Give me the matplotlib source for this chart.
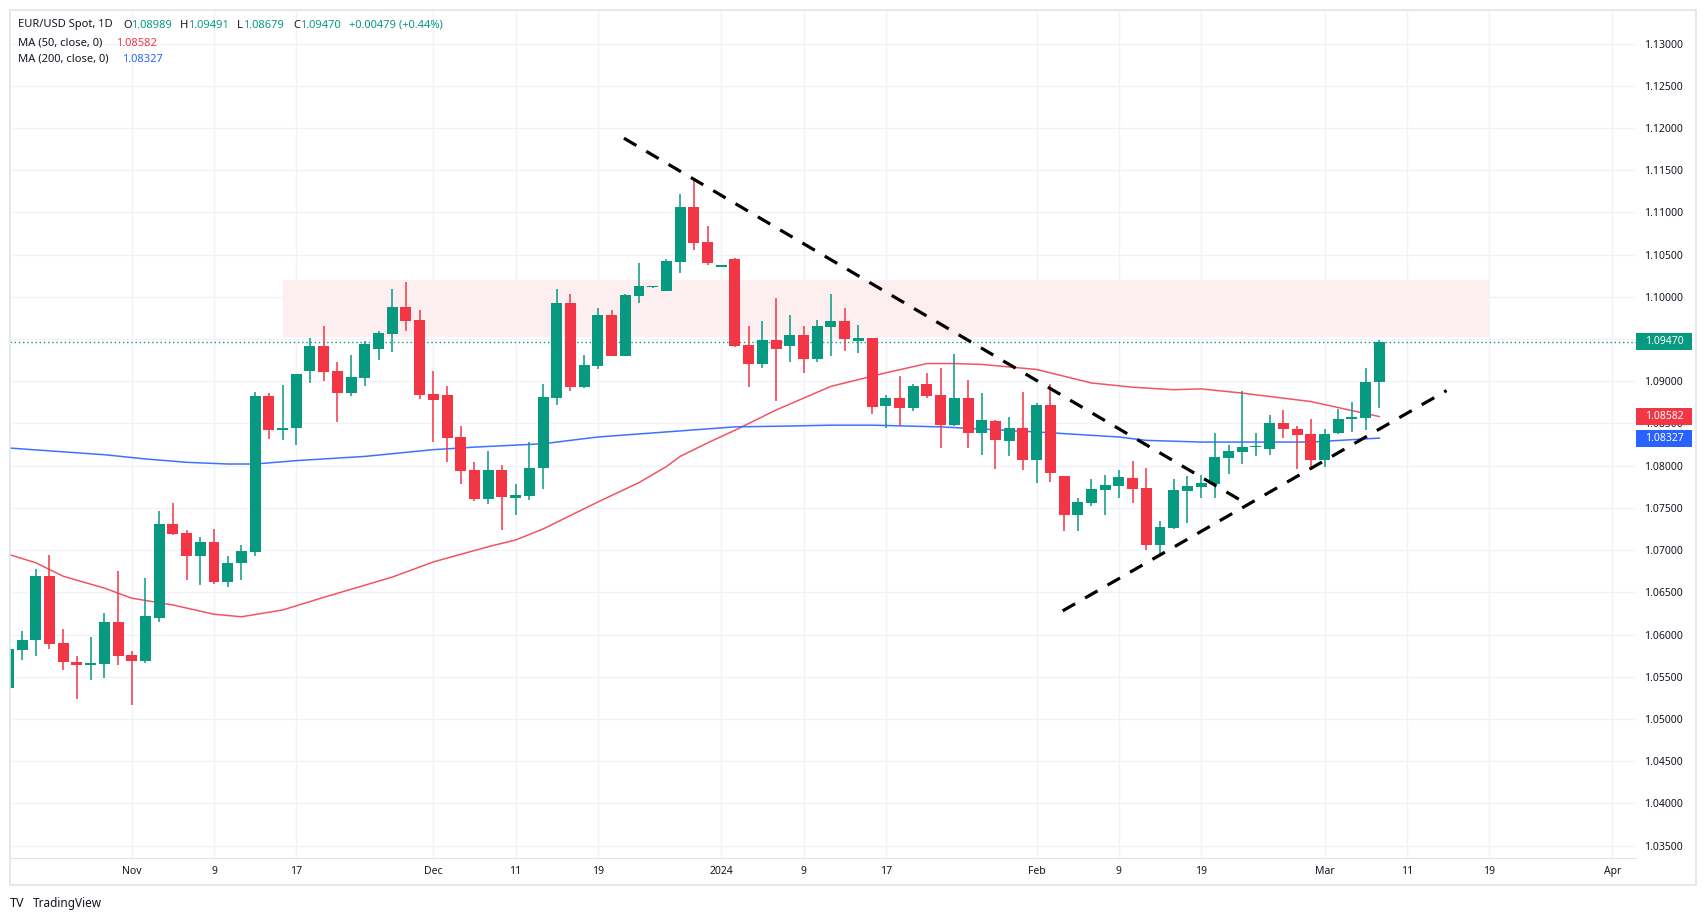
import numpy as np
import pandas as pd
import matplotlib
matplotlib.use("Agg")
import matplotlib.pyplot as plt
from matplotlib.patches import Rectangle
from matplotlib.ticker import FuncFormatter

plt.rcParams['font.family'] = ['Noto Sans', 'DejaVu Sans']

"""
Daily EUR/USD candles, one per weekday starting at first_day
"""
first_day = "2023-10-19"
opens = [1.0537, 1.0582, 1.0593, 1.0669, 1.0590, 1.0568, 1.0564, 1.0565, 1.0615, 1.0576,
         1.0569, 1.0620, 1.0731, 1.0720, 1.0693, 1.0710, 1.0662, 1.0685, 1.0698, 1.0883,
         1.0842, 1.0845, 1.0912, 1.0942, 1.0912, 1.0886, 1.0904, 1.0938, 1.0956, 1.0988,
         1.0973, 1.0885, 1.0884, 1.0834, 1.0795, 1.0761, 1.0795, 1.0762, 1.0764, 1.0797,
         1.0880, 1.0993, 1.0893, 1.0918, 1.0979, 1.0930, 1.1001, 1.1012, 1.1007, 1.1041,
         1.1107, 1.1065, 1.1036, 1.1045, 1.0943, 1.0921, 1.0949, 1.0942, 1.0955, 1.0926,
         1.0964, 1.0971, 1.0948, 1.0951, 1.0871, 1.0880, 1.0868, 1.0897, 1.0884, 1.0848,
         1.0880, 1.0839, 1.0853, 1.0829, 1.0845, 1.0807, 1.0872, 1.0788, 1.0742, 1.0756,
         1.0771, 1.0776, 1.0785, 1.0774, 1.0706, 1.0726, 1.0770, 1.0775, 1.0778, 1.0809,
         1.0816, 1.0822, 1.0820, 1.0851, 1.0844, 1.0838, 1.0807, 1.0839, 1.0855, 1.0857,
         1.08989]
highs = [1.0593, 1.0604, 1.0678, 1.0694, 1.0606, 1.0575, 1.0597, 1.0626, 1.0675, 1.0581,
         1.0667, 1.0746, 1.0756, 1.0724, 1.0716, 1.0725, 1.0693, 1.0706, 1.0887, 1.0886,
         1.0896, 1.0909, 1.0951, 1.0966, 1.0923, 1.0931, 1.0948, 1.0960, 1.1009, 1.1018,
         1.0985, 1.0912, 1.0894, 1.0847, 1.0804, 1.0817, 1.0801, 1.0778, 1.0828, 1.0897,
         1.1009, 1.1003, 1.0931, 1.0987, 1.0985, 1.1003, 1.1040, 1.1013, 1.1045, 1.1122,
         1.1140, 1.1084, 1.1037, 1.1046, 1.0966, 1.0971, 1.0999, 1.0979, 1.0966, 1.0973,
         1.1003, 1.0987, 1.0967, 1.0951, 1.0884, 1.0906, 1.0897, 1.0910, 1.0916, 1.0932,
         1.0902, 1.0886, 1.0854, 1.0858, 1.0887, 1.0874, 1.0897, 1.0788, 1.0762, 1.0784,
         1.0789, 1.0795, 1.0806, 1.0797, 1.0735, 1.0784, 1.0788, 1.0789, 1.0839, 1.0825,
         1.0889, 1.0839, 1.0860, 1.0866, 1.0847, 1.0855, 1.0844, 1.0867, 1.0876, 1.0916,
         1.09491]
lows = [1.0525, 1.0570, 1.0575, 1.0583, 1.0558, 1.0524, 1.0546, 1.0549, 1.0564, 1.0517,
        1.0566, 1.0615, 1.0718, 1.0665, 1.0659, 1.0660, 1.0656, 1.0665, 1.0693, 1.0832,
        1.0830, 1.0825, 1.0898, 1.0900, 1.0852, 1.0883, 1.0894, 1.0925, 1.0935, 1.0960,
        1.0879, 1.0828, 1.0804, 1.0778, 1.0758, 1.0755, 1.0724, 1.0742, 1.0759, 1.0772,
        1.0872, 1.0889, 1.0892, 1.0915, 1.0930, 1.0930, 1.0993, 1.1011, 1.1007, 1.1028,
        1.1056, 1.1038, 1.1035, 1.0941, 1.0893, 1.0916, 1.0877, 1.0923, 1.0910, 1.0923,
        1.0930, 1.0936, 1.0934, 1.0861, 1.0845, 1.0847, 1.0865, 1.0880, 1.0821, 1.0847,
        1.0821, 1.0813, 1.0796, 1.0812, 1.0795, 1.0780, 1.0781, 1.0723, 1.0723, 1.0752,
        1.0742, 1.0762, 1.0756, 1.0700, 1.0693, 1.0725, 1.0732, 1.0762, 1.0762, 1.0790,
        1.0802, 1.0812, 1.0813, 1.0833, 1.0796, 1.0796, 1.0798, 1.0838, 1.0840, 1.0842,
        1.08679]
closes = [1.0583, 1.0594, 1.0669, 1.0589, 1.0567, 1.0564, 1.0566, 1.0615, 1.0575, 1.0569,
          1.0622, 1.0731, 1.0719, 1.0693, 1.0710, 1.0662, 1.0685, 1.0699, 1.0883, 1.0842,
          1.0845, 1.0909, 1.0942, 1.0911, 1.0886, 1.0905, 1.0944, 1.0957, 1.0988, 1.0971,
          1.0884, 1.0878, 1.0833, 1.0794, 1.0761, 1.0795, 1.0763, 1.0765, 1.0797, 1.0881,
          1.0993, 1.0893, 1.0919, 1.0979, 1.0930, 1.1002, 1.1013, 1.1013, 1.1043, 1.1107,
          1.1064, 1.1040, 1.1036, 1.0942, 1.0921, 1.0949, 1.0938, 1.0955, 1.0926, 1.0966,
          1.0971, 1.0950, 1.0951, 1.0870, 1.0880, 1.0868, 1.0894, 1.0883, 1.0848, 1.0880,
          1.0839, 1.0854, 1.0830, 1.0845, 1.0807, 1.0872, 1.0791, 1.0742, 1.0757, 1.0772,
          1.0777, 1.0787, 1.0772, 1.0706, 1.0727, 1.0771, 1.0776, 1.0780, 1.0810, 1.0817,
          1.0822, 1.0822, 1.0851, 1.0844, 1.0836, 1.0807, 1.0838, 1.0855, 1.0858, 1.08991,
          1.09470]

# moving averages (day number counted from first_day)
ma50_days = [0, 2, 4, 7, 9, 12, 15, 17, 20, 23, 28, 31, 35, 37, 39, 43, 46, 48, 49,
             51, 53, 56, 58, 60, 64, 67, 69, 71, 75, 79, 82, 85, 87, 90, 92, 95, 100]
ma50_vals = [1.0695, 1.0685, 1.0669, 1.0655, 1.0643, 1.0635, 1.0624, 1.0621, 1.0629,
             1.0644, 1.0668, 1.0686, 1.0704, 1.0712, 1.0725, 1.0757, 1.0780, 1.0799,
             1.0811, 1.0827, 1.0842, 1.0866, 1.0880, 1.0894, 1.0910, 1.0921, 1.0921,
             1.0920, 1.0914, 1.0898, 1.0893, 1.0890, 1.0891, 1.0886, 1.0882, 1.0876,
             1.08582]
ma200_days = [0, 7, 10, 13, 16, 18, 21, 26, 31, 34, 39, 43, 53, 57, 60, 63, 68, 75,
              81, 83, 87, 95, 100]
ma200_vals = [1.0821, 1.0813, 1.0808, 1.0804, 1.0802, 1.0802, 1.0806, 1.0811, 1.0819,
              1.0822, 1.0826, 1.0834, 1.0846, 1.0847, 1.0848, 1.0848, 1.0846, 1.0840,
              1.0834, 1.0830, 1.0828, 1.0828, 1.08327]

# time scale labels
tick_dates = ["2023-11-01", "2023-11-09", "2023-11-17", "2023-12-01", "2023-12-11",
              "2023-12-19", "2024-01-01", "2024-01-09", "2024-01-17", "2024-02-01",
              "2024-02-09", "2024-02-19", "2024-03-01", "2024-03-11", "2024-03-19",
              "2024-04-01"]
tick_labels = ["Nov", "9", "17", "Dec", "11", "19", "2024", "9", "17", "Feb", "9", "19",
               "Mar", "11", "19", "Apr"]
price_ticks = [1.035, 1.040, 1.045, 1.050, 1.055, 1.060, 1.065, 1.070, 1.075, 1.080,
               1.085, 1.090, 1.095, 1.100, 1.105, 1.110, 1.115, 1.120, 1.125, 1.130]

# drawings on the chart
zone_days = [20, 108]
zone_prices = [1.0952, 1.1020]
down_trend_days = [44.9, 90.2]
down_trend_prices = [1.1188, 1.0756]
up_trend_days = [76.9, 104.9]
up_trend_prices = [1.0628, 1.0889]

last_close = 1.09470
ma50_last = 1.08582
ma200_last = 1.08327

UP = "#089981"
DOWN = "#F23645"
BLUE = "#2962FF"
TEXT = "#131722"
GRID = "#F0F3FA"

W, H = 1706, 921
y_lo, y_hi = 1.03352, 1.13399
fig = plt.figure(figsize=(W / 100, H / 100), dpi=100)
fig.patch.set_facecolor("white")
ax = fig.add_axes([10 / W, 1 - 858 / H, 1626 / W, 848 / H])

cal = pd.bdate_range(first_day, "2024-05-31")
x = np.arange(len(opens))

# candles
for i in x:
  o, h, l, c = opens[i], highs[i], lows[i], closes[i]
  col = UP if c >= o else DOWN
  ax.vlines(i, l, h, color=col, lw=1.1, zorder=3)
  body = max(abs(c - o), 0.00012)
  ax.bar(i, body, bottom=min(o, c), width=0.8, color=col, zorder=4)

# moving averages
ax.plot(ma50_days, ma50_vals, color=DOWN, lw=1.1, alpha=0.85, zorder=2)
ax.plot(ma200_days, ma200_vals, color=BLUE, lw=1.1, alpha=0.9, zorder=2)

# resistance zone and trend lines
ax.add_patch(Rectangle((zone_days[0], zone_prices[0]), zone_days[1] - zone_days[0],
                       zone_prices[1] - zone_prices[0], facecolor="#FDEEEF",
                       edgecolor="none", zorder=1))
ax.plot(down_trend_days, down_trend_prices, color="black", lw=2.3,
        linestyle=(0, (4.5, 3.6)), zorder=5)
ax.plot(up_trend_days, up_trend_prices, color="black", lw=2.3,
        linestyle=(0, (4.5, 3.6)), zorder=5)

# last price line
ax.axhline(last_close, color=UP, lw=1, linestyle=(0, (1, 2)), zorder=2)

ax.set_xlim(0.12, 118.72)
ax.set_ylim(y_lo, y_hi)

tick_pos = [cal.get_loc(pd.Timestamp(d)) for d in tick_dates]
ax.set_xticks(tick_pos)
ax.set_xticklabels(tick_labels)
for lab in ax.get_xticklabels():
  if lab.get_text() == "2024":
    lab.set_fontweight("bold")
ax.set_yticks(price_ticks)
ax.yaxis.set_major_formatter(FuncFormatter(lambda v, p: "{:.5f}".format(v)))
ax.yaxis.tick_right()
ax.tick_params(axis="both", length=0, labelsize=7.5, labelcolor=TEXT)
ax.tick_params(axis="y", pad=5.8)
ax.tick_params(axis="x", pad=5.5)
ax.grid(True, color=GRID, lw=1, zorder=0)
ax.set_axisbelow(True)
for pos in ["top", "right", "left"]:
  ax.spines[pos].set_visible(False)
ax.spines["bottom"].set_color("#E0E3EB")

# price scale labels
box_w = 56 / 1626
box_h = 17 * (y_hi - y_lo) / 848
for val, col in [(last_close, UP), (ma50_last, DOWN), (ma200_last, BLUE)]:
  ax.add_patch(Rectangle((1.0, val - box_h / 2), box_w, box_h, facecolor=col,
                         edgecolor="none", transform=ax.get_yaxis_transform(),
                         clip_on=False, zorder=6))
  ax.text(1.0 + box_w / 2, val, "{:.5f}".format(val), color="white", fontsize=7.5,
          ha="center", va="center", transform=ax.get_yaxis_transform(),
          clip_on=False, zorder=7)

# header legend
def px_text(px, py, s, color=TEXT, **kw):
  kw.setdefault("fontsize", 8)
  fig.text(px / W, 1 - py / H, s, color=color, va="center", ha="left", **kw)

px_text(18, 25, "EUR/USD Spot, 1D")
px_text(123, 25, "O")
px_text(131, 25, "{:.5f}".format(opens[-1]), UP)
px_text(180, 25, "H")
px_text(188, 25, "{:.5f}".format(highs[-1]), UP)
px_text(237, 25, "L")
px_text(243, 25, "{:.5f}".format(lows[-1]), UP)
px_text(293, 25, "C")
px_text(300, 25, "{:.5f}".format(closes[-1]), UP)
chg = closes[-1] - closes[-2]
px_text(349, 25, "{:+.5f} ({:+.2f}%)".format(chg, chg / closes[-2] * 100), UP)
px_text(18, 43, "MA (50, close, 0)")
px_text(116, 43, "{:.5f}".format(ma50_last), DOWN)
px_text(18, 59, "MA (200, close, 0)")
px_text(122, 59, "{:.5f}".format(ma200_last), BLUE)

# TradingView mark
px_text(10, 903, "TV", fontweight="heavy", fontsize=9)
px_text(33, 903, "TradingView", fontsize=8.5)

# outer frame
fig.add_artist(Rectangle((9.5 / W, 1 - 885 / H), 1686.5 / W, 875 / H, fill=False,
                         edgecolor="#E0E3EB", lw=1.2, transform=fig.transFigure))

fig.savefig("out.png", dpi=100)
